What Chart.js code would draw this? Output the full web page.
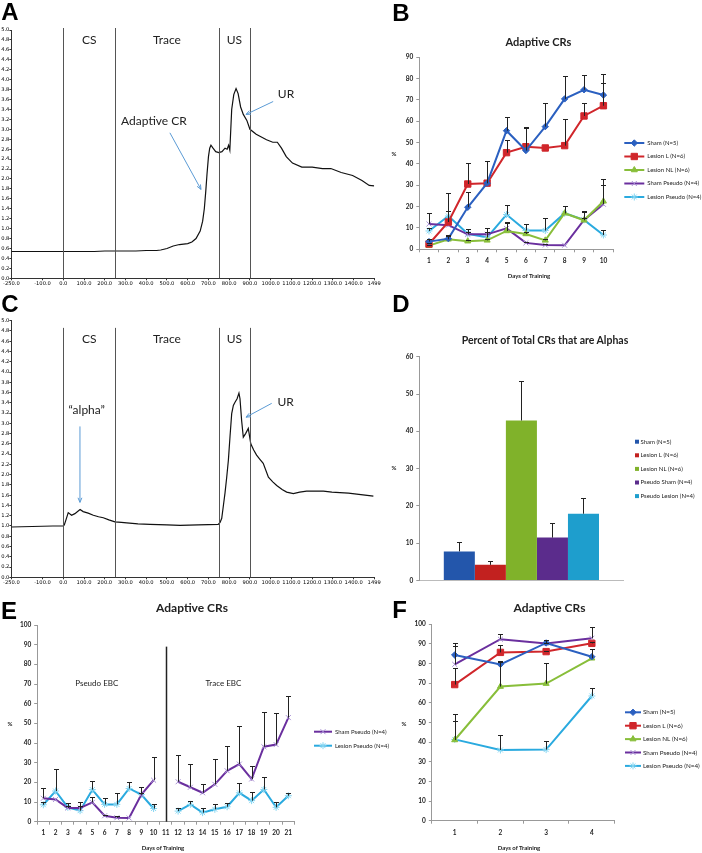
<!DOCTYPE html>
<html>
<head>
<meta charset="utf-8">
<script src="https://cdn.jsdelivr.net/npm/chart.js@4.4.0/dist/chart.umd.min.js"></script>
<style>
  html, body { margin: 0; padding: 0; background: #fff; }
  #page { position: relative; width: 702px; height: 853px; overflow: hidden; font-family: 'Lato', sans-serif; }
  #page canvas { position: absolute; left: 0; top: 0; }
  .t { position: absolute; transform: translate(-50%, -50%); white-space: nowrap; color: #222; line-height: 1; }
  .letter { font: bold 24px 'Liberation Sans', Arial, sans-serif; color: #000; }
  .title { font-weight: bold; }
  .axt { font-weight: bold; font-size: 6px; }
</style>
</head>
<body>
<div id="page">
  <canvas id="chartA" width="702" height="853"></canvas>
  <canvas id="chartB" width="702" height="853"></canvas>
  <canvas id="chartC" width="702" height="853"></canvas>
  <canvas id="chartD" width="702" height="853"></canvas>
  <canvas id="chartE" width="702" height="853"></canvas>
  <canvas id="chartF" width="702" height="853"></canvas>

  <div class="t letter" style="left:10px;top:12px">A</div>
  <div class="t letter" style="left:401px;top:12.5px">B</div>
  <div class="t letter" style="left:10px;top:304px">C</div>
  <div class="t letter" style="left:401px;top:304px">D</div>
  <div class="t letter" style="left:9px;top:611px">E</div>
  <div class="t letter" style="left:399.5px;top:609.5px">F</div>

  <div class="t title" style="left:538.5px;top:41px;font-size:11px">Adaptive CRs</div>
  <div class="t title" style="left:545px;top:340px;font-size:10.5px">Percent of Total CRs that are Alphas</div>
  <div class="t title" style="left:192px;top:608px;font-size:12px">Adaptive CRs</div>
  <div class="t title" style="left:549.5px;top:608px;font-size:12px">Adaptive CRs</div>

  <div class="t axt" style="left:529px;top:276px">Days of Training</div>
  <div class="t axt" style="left:394px;top:154px">%</div>
  <div class="t axt" style="left:394px;top:468px">%</div>
  <div class="t axt" style="left:163px;top:848px">Days of Training</div>
  <div class="t axt" style="left:10px;top:724px">%</div>
  <div class="t axt" style="left:519px;top:848px">Days of Training</div>
  <div class="t axt" style="left:404px;top:724px">%</div>
</div>

<script>
// ---- eyeblink traces (A = adaptive CR trial, C = alpha trial) ----
const traceTicks = [-250, -100, 0, 100, 200, 300, 400, 500, 600, 700, 800, 900, 1000, 1100, 1200, 1300, 1400, 1499];
const traceEvents = [0, 250, 750, 900];
const phaseNames = ['CS', 'Trace', 'US'];

const traceATime = [-250, -200, -150, -100, -50, 0, 50, 100, 150, 200, 250, 300, 350, 400, 450, 470, 500, 530, 560, 600,
  620, 640, 660, 672, 680, 687, 693, 700, 706, 712, 722, 735, 750, 765, 780, 790, 797, 803, 812, 822, 833, 843, 855, 868,
  885, 900, 930, 980, 1010, 1032, 1052, 1075, 1105, 1150, 1200, 1250, 1290, 1340, 1395, 1440, 1475, 1499];
const traceAVal = [0.54, 0.54, 0.54, 0.54, 0.54, 0.54, 0.54, 0.54, 0.54, 0.55, 0.55, 0.55, 0.55, 0.56, 0.56, 0.57, 0.60, 0.65, 0.68, 0.70,
  0.73, 0.80, 0.95, 1.15, 1.40, 1.75, 2.10, 2.45, 2.62, 2.68, 2.62, 2.55, 2.53, 2.55, 2.62, 2.60, 2.68, 2.58, 3.40, 3.70, 3.82, 3.72, 3.45, 3.30,
  3.18, 3.00, 2.90, 2.79, 2.74, 2.74, 2.62, 2.45, 2.32, 2.24, 2.24, 2.21, 2.21, 2.13, 2.07, 1.97, 1.87, 1.86];

const traceCTime = [-250, -150, -50, 0, 5, 13, 24, 40, 56, 81, 96, 120, 145, 170, 193, 220, 249, 280, 306, 360, 418, 500, 563, 650,
  747, 756, 764, 772, 780, 788, 796, 804, 812, 820, 828, 838, 847, 852, 860, 868, 879, 892, 904, 918, 932, 948, 964, 989,
  1010, 1029, 1055, 1077, 1109, 1140, 1173, 1210, 1254, 1295, 1334, 1375, 1415, 1455, 1495];
const traceCVal = [0.98, 0.99, 1.00, 1.00, 1.02, 1.12, 1.26, 1.21, 1.24, 1.32, 1.28, 1.25, 1.21, 1.18, 1.16, 1.12, 1.08, 1.07, 1.06, 1.04, 1.03, 1.02, 1.01, 1.02,
  1.03, 1.07, 1.15, 1.40, 1.65, 1.95, 2.28, 2.75, 3.19, 3.35, 3.41, 3.48, 3.59, 3.48, 3.05, 2.73, 2.80, 2.90, 2.60, 2.48, 2.38, 2.30, 2.22, 1.95,
  1.86, 1.79, 1.71, 1.66, 1.63, 1.66, 1.68, 1.68, 1.68, 1.66, 1.65, 1.64, 1.62, 1.60, 1.58];

// ---- B: adaptive CRs, 10 days ----
const days10 = ['1', '2', '3', '4', '5', '6', '7', '8', '9', '10'];
const bSham = [3.6, 5.0, 19.7, 31.0, 55.6, 46.3, 57.5, 70.5, 74.8, 72.3];
const bShamErr = [1.2, 1.5, 7.3, 10.4, 6.6, 10.4, 10.9, 10.7, 6.7, 10.0];
const bLesionL = [2.5, 12.8, 30.6, 31.0, 45.3, 48.1, 47.5, 48.6, 62.5, 67.3];
const bLesionLErr = [0.5, 5.2, 10.0, 10.4, 5.9, 9.4, 0, 12.4, 6.3, 10.5];
const bLesionNL = [1.7, 4.7, 3.8, 4.2, 8.6, 7.2, 4.2, 16.9, 13.6, 22.5];
const bLesionNLErr = [0.5, 1.7, 0.5, 0.5, 3.6, 1.0, 0.5, 3.5, 4.0, 7.7];
const bShamPseudo = [11.9, 11.3, 7.0, 7.0, 9.8, 3.0, 2.0, 1.9, 13.8, 21.1];
const bShamPseudoErr = [5.3, 0, 1.0, 1.0, 3.0, 0.5, 0.7, 0, 1.0, 12.0];
const bLesionPseudo = [8.6, 15.6, 7.3, 5.6, 16.3, 8.8, 8.8, 16.9, 13.8, 6.7];
const bLesionPseudoErr = [1.5, 11.0, 2.2, 4.2, 4.5, 3.0, 5.7, 3.5, 4.0, 2.3];

// ---- D: percent of CRs that are alphas ----
const dGroups = ['Sham (N=5)', 'Lesion L (N=6)', 'Lesion NL (N=6)', 'Pseudo Sham (N=4)', 'Pseudo Lesion (N=4)'];
const dValues = [7.8, 4.2, 42.9, 11.5, 17.9];
const dErrors = [2.4, 1.1, 10.7, 3.9, 4.2];

// ---- E: pseudo then trace conditioning, 21 days (day 11 empty) ----
const days21 = ['1', '2', '3', '4', '5', '6', '7', '8', '9', '10', '11', '12', '13', '14', '15', '16', '17', '18', '19', '20', '21'];
const eShamPseudo = [11.9, 11.3, 7.0, 7.0, 9.8, 3.0, 2.0, 1.9, 13.8, 21.1, null, 20.3, 17.5, 14.7, 19.0, 25.9, 29.3, 21.7, 38.1, 39.2, 52.9];
const eShamPseudoErr = [5.3, 0, 1.0, 1.0, 3.0, 0.5, 0.7, 0, 1.0, 12.0, 0, 13.4, 12.0, 4.3, 12.9, 12.6, 19.3, 6.8, 17.7, 16.2, 10.8];
const eLesionPseudo = [8.6, 15.6, 7.3, 5.6, 16.3, 8.8, 8.8, 16.9, 13.8, 6.7, null, 5.4, 8.8, 4.6, 6.3, 7.6, 14.7, 10.7, 16.4, 7.3, 13.2];
const eLesionPseudoErr = [1.5, 11.0, 2.2, 4.2, 4.5, 3.0, 5.7, 3.5, 4.0, 2.3, 0, 1.7, 1.7, 2.2, 2.5, 1.9, 4.8, 4.6, 6.3, 2.7, 1.5];

// ---- F: adaptive CRs, 4 days ----
const days4 = ['1', '2', '3', '4'];
const fSham = [84.4, 79.6, 90.5, 83.5];
const fShamErr = [5.9, 1.5, 1.5, 3.8];
const fLesionL = [69.3, 85.7, 86.1, 90.3];
const fLesionLErr = [8.5, 3.8, 0.5, 0.5];
const fLesionNL = [41.1, 68.3, 69.8, 82.7];
const fLesionNLErr = [13.4, 12.7, 10.7, 4.6];
const fShamPseudo = [79.6, 92.4, 90.2, 92.9];
const fShamPseudoErr = [9.4, 2.5, 0.5, 5.9];
const fLesionPseudo = [41.4, 36.0, 36.2, 63.5];
const fLesionPseudoErr = [9.5, 7.6, 4.5, 4.2];

const groupNames = ['Sham (N=5)', 'Lesion L (N=6)', 'Lesion NL (N=6)', 'Sham Pseudo (N=4)', 'Lesion Pseudo (N=4)'];

// colours
const cSham = '#2b60c0', cLesionL = '#d0262b', cLesionNL = '#88be3a', cShamPseudo = '#6a2f9e', cLesionPseudo = '#2aaadf';
const barColors = ['#2356ab', '#c2211f', '#80b22a', '#5b2c8c', '#1e9ecd'];

Chart.defaults.font.family = 'Lato';
Chart.defaults.animation = false;
Chart.defaults.devicePixelRatio = 1;
Chart.defaults.plugins.legend.display = false;
Chart.defaults.plugins.tooltip.enabled = false;

// upward error bars
const errorBars = {
  id: 'errorBars',
  afterDatasetsDraw(chart) {
    const ctx = chart.ctx, yScale = chart.scales.y;
    ctx.save();
    ctx.strokeStyle = '#222';
    ctx.lineWidth = 1;
    chart.data.datasets.forEach((ds, di) => {
      if (!ds.errors) return;
      chart.getDatasetMeta(di).data.forEach((el, i) => {
        const v = ds.data[i], e = ds.errors[i];
        if (v == null || !e) return;
        const x = Math.round(el.x) + 0.5;
        const top = Math.round(yScale.getPixelForValue(v + e)) + 0.5;
        ctx.beginPath();
        ctx.moveTo(x, el.y);
        ctx.lineTo(x, top);
        ctx.moveTo(x - 2.5, top);
        ctx.lineTo(x + 2.5, top);
        ctx.stroke();
      });
    });
    ctx.restore();
  }
};

// legend beside the plot, like the spreadsheet one
const sideLegend = {
  id: 'sideLegend',
  afterDraw(chart, args, opts) {
    if (opts.x == null) return;
    const ctx = chart.ctx;
    ctx.save();
    ctx.font = opts.font;
    ctx.textBaseline = 'middle';
    chart.data.datasets.forEach((ds, i) => {
      const y = opts.y + i * opts.step;
      if (opts.box) {
        ctx.fillStyle = ds.backgroundColor;
        ctx.fillRect(opts.x, y - 2, 4, 4);
      } else {
        ctx.strokeStyle = ds.borderColor;
        ctx.lineWidth = 2;
        ctx.beginPath();
        ctx.moveTo(opts.x, y);
        ctx.lineTo(opts.x + opts.len, y);
        ctx.stroke();
        ctx.fillStyle = ds.pointBackgroundColor;
        ctx.strokeStyle = ds.pointBorderColor;
        ctx.lineWidth = 1;
        Chart.helpers.drawPoint(ctx, { pointStyle: ds.pointStyle, radius: ds.pointRadius, rotation: 0, borderWidth: 1 },
          opts.x + opts.len / 2, y);
      }
      ctx.fillStyle = '#222';
      ctx.fillText(ds.label, opts.x + opts.textOff, y);
    });
    ctx.restore();
  }
};

// lines, labels and arrows placed in data units
const notes = {
  id: 'notes',
  afterDatasetsDraw(chart, args, opts) {
    const { ctx, scales: { x, y } } = chart;
    ctx.save();
    (opts.lines || []).forEach(l => {
      const px = Math.round(x.getPixelForValue(l.x)) + 0.5;
      ctx.strokeStyle = l.color;
      ctx.lineWidth = l.width;
      ctx.beginPath();
      ctx.moveTo(px, y.getPixelForValue(l.y0));
      ctx.lineTo(px, y.getPixelForValue(l.y1));
      ctx.stroke();
    });
    (opts.arrows || []).forEach(a => {
      const x1 = x.getPixelForValue(a[0]), y1 = y.getPixelForValue(a[1]);
      const x2 = x.getPixelForValue(a[2]), y2 = y.getPixelForValue(a[3]);
      const ang = Math.atan2(y2 - y1, x2 - x1);
      ctx.strokeStyle = '#5b9bd5';
      ctx.lineWidth = 1;
      ctx.beginPath();
      ctx.moveTo(x1, y1);
      ctx.lineTo(x2, y2);
      ctx.moveTo(x2 - 5 * Math.cos(ang - 0.4), y2 - 5 * Math.sin(ang - 0.4));
      ctx.lineTo(x2, y2);
      ctx.lineTo(x2 - 5 * Math.cos(ang + 0.4), y2 - 5 * Math.sin(ang + 0.4));
      ctx.stroke();
    });
    ctx.textAlign = 'center';
    ctx.textBaseline = 'middle';
    ctx.fillStyle = '#222';
    (opts.texts || []).forEach(t => {
      ctx.font = t.font;
      ctx.fillText(t.text, x.getPixelForValue(t.x), y.getPixelForValue(t.y));
    });
    ctx.restore();
  }
};

Chart.register(errorBars, sideLegend);

// plot rectangle given in page pixels; the axes get fixed room
function placePlot(L, T, R, B, yW, xH) {
  return { left: L - yW, top: T, right: 702 - R, bottom: 853 - B - xH };
}

const tickFont = { size: 6.5, weight: 'bold' };
const traceFont = { family: 'DejaVu Sans', size: 5.2 };

function catScales(yMax, yW, xH, xPad) {
  return {
    x: {
      type: 'category', offset: true,
      grid: { offset: true, drawOnChartArea: false, color: '#999', tickLength: 3 },
      border: { color: '#999' },
      ticks: { font: tickFont, color: '#222', maxRotation: 0, autoSkip: false, padding: xPad },
      afterFit: s => { s.height = xH; }
    },
    y: {
      min: 0, max: yMax,
      grid: { drawOnChartArea: false, color: '#999', tickLength: 3 },
      border: { color: '#999' },
      ticks: { stepSize: 10, font: tickFont, color: '#222', padding: 3 },
      afterFit: s => { s.width = yW; }
    }
  };
}

const markers = [
  { pointStyle: 'rectRot', pointRadius: 3.2, color: cSham, edge: cSham },
  { pointStyle: 'rect', pointRadius: 4.5, color: cLesionL, edge: cLesionL },
  { pointStyle: 'triangle', pointRadius: 3.5, color: cLesionNL, edge: cLesionNL },
  { pointStyle: 'crossRot', pointRadius: 3.5, color: cShamPseudo, edge: '#a890d4' },
  { pointStyle: 'star', pointRadius: 3.5, color: cLesionPseudo, edge: '#86d6f2' }
];

function lineSet(i, data, errors) {
  const m = markers[i];
  return {
    label: groupNames[i], data, errors,
    borderColor: m.color, backgroundColor: m.color, borderWidth: 2, tension: 0, spanGaps: false,
    pointStyle: m.pointStyle, pointRadius: m.pointRadius,
    pointBackgroundColor: m.color, pointBorderColor: m.edge, pointBorderWidth: 1
  };
}

function traceChart(id, times, vals, L, T, R, B, extra) {
  return new Chart(document.getElementById(id), {
    type: 'line',
    data: {
      datasets: [{
        data: times.map((t, i) => ({ x: t, y: vals[i] })),
        borderColor: '#111', borderWidth: 1.2, pointRadius: 0, tension: 0
      }]
    },
    options: {
      responsive: false,
      layout: { padding: placePlot(L, T, R, B, 11, 10) },
      scales: {
        x: {
          type: 'linear', min: -250, max: 1499,
          afterBuildTicks: s => { s.ticks = traceTicks.map(v => ({ value: v })); },
          grid: { drawOnChartArea: false, color: '#333', tickLength: 2 },
          border: { color: '#333' },
          ticks: { font: traceFont, color: '#000', maxRotation: 0, autoSkip: false, padding: 0,
            callback: v => (v === 1499 ? '1499' : v.toFixed(1)) },
          afterFit: s => { s.height = 10; }
        },
        y: {
          min: 0, max: 5,
          grid: { drawOnChartArea: false, color: '#333', tickLength: 2 },
          border: { color: '#333' },
          ticks: { stepSize: 0.2, autoSkip: false, font: traceFont, color: '#000', padding: 0,
            callback: v => v.toFixed(1) },
          afterFit: s => { s.width = 11; }
        }
      },
      plugins: { notes: extra }
    },
    plugins: [notes]
  });
}

function traceNotes(lineTop, phaseY, labels, arrows) {
  return {
    lines: traceEvents.map(t => ({ x: t, y0: lineTop, y1: 0, color: '#555', width: 1 })),
    texts: phaseNames.map((n, i) => ({ text: n, x: (traceEvents[i] + traceEvents[i + 1]) / 2, y: phaseY, font: '12px Lato' }))
      .concat(labels.map(l => ({ text: l[0], x: l[1], y: l[2], font: '12px Lato' }))),
    arrows
  };
}

// A
traceChart('chartA', traceATime, traceAVal, 11.4, 30, 374.2, 278.3,
  traceNotes(5.04, 4.80, [['Adaptive CR', 437, 3.17], ['UR', 1074, 3.71]],
    [[514, 2.93, 664, 1.79], [1012, 3.56, 881, 3.30]]));

// C
traceChart('chartC', traceCTime, traceCVal, 11.4, 320.7, 374.2, 577.3,
  traceNotes(4.86, 4.64, [['\u201calpha\u201d', 113, 3.25], ['UR', 1072, 3.41]],
    [[80.5, 2.94, 80.5, 1.46], [1005, 3.39, 881, 3.12]]));

// B
new Chart(document.getElementById('chartB'), {
  type: 'line',
  data: {
    labels: days10,
    datasets: [
      lineSet(0, bSham, bShamErr),
      lineSet(1, bLesionL, bLesionLErr),
      lineSet(2, bLesionNL, bLesionNLErr),
      lineSet(3, bShamPseudo, bShamPseudoErr),
      lineSet(4, bLesionPseudo, bLesionPseudoErr)
    ]
  },
  options: {
    responsive: false,
    layout: { padding: placePlot(419.3, 57.3, 613.1, 249.3, 20, 20) },
    scales: catScales(90, 20, 20, 5),
    plugins: { sideLegend: { x: 624.3, y: 143, step: 13.5, len: 20, textOff: 23, font: '6px Lato' } }
  }
});

// D
new Chart(document.getElementById('chartD'), {
  type: 'bar',
  data: {
    labels: [''],
    datasets: dGroups.map((g, i) => ({
      label: g, data: [dValues[i]], errors: [dErrors[i]], backgroundColor: barColors[i],
      borderWidth: 0, categoryPercentage: 0.76, barPercentage: 1
    }))
  },
  options: {
    responsive: false,
    layout: { padding: placePlot(419.3, 356.7, 623.5, 580.5, 20, 2) },
    scales: {
      x: {
        grid: { display: false }, border: { color: '#bbb' }, ticks: { display: false },
        afterFit: s => { s.height = 2; }
      },
      y: {
        min: 0, max: 60,
        grid: { drawOnChartArea: false, color: '#999', tickLength: 3 },
        border: { color: '#999' },
        ticks: { stepSize: 10, font: tickFont, color: '#222', padding: 3 },
        afterFit: s => { s.width = 20; }
      }
    },
    plugins: { sideLegend: { x: 635, y: 441.7, step: 13.6, box: true, textOff: 5.5, font: '6px Lato' } }
  }
});

// E
const eSets = [lineSet(3, eShamPseudo, eShamPseudoErr), lineSet(4, eLesionPseudo, eLesionPseudoErr)];
new Chart(document.getElementById('chartE'), {
  type: 'line',
  data: { labels: days21, datasets: eSets },
  options: {
    responsive: false,
    layout: { padding: placePlot(37.2, 625, 294.5, 821.7, 20, 20) },
    scales: catScales(100, 20, 20, 4),
    plugins: {
      sideLegend: { x: 314, y: 731.7, step: 14, len: 18, textOff: 21, font: '6px Lato' },
      notes: {
        lines: [{ x: 10, y0: 89, y1: 0, color: '#222', width: 1.5 }],
        texts: [
          { text: 'Pseudo EBC', x: 4.36, y: 70.4, font: '8px Lato' },
          { text: 'Trace EBC', x: 14.7, y: 70.4, font: '8px Lato' }
        ]
      }
    }
  },
  plugins: [notes]
});

// F
new Chart(document.getElementById('chartF'), {
  type: 'line',
  data: {
    labels: days4,
    datasets: [
      lineSet(0, fSham, fShamErr),
      lineSet(1, fLesionL, fLesionLErr),
      lineSet(2, fLesionNL, fLesionNLErr),
      lineSet(3, fShamPseudo, fShamPseudoErr),
      lineSet(4, fLesionPseudo, fLesionPseudoErr)
    ]
  },
  options: {
    responsive: false,
    layout: { padding: placePlot(431.85, 624.3, 614.7, 820.7, 20, 20) },
    scales: catScales(100, 20, 20, 5),
    plugins: { sideLegend: { x: 625, y: 712.3, step: 13.4, len: 16, textOff: 18, font: '6.3px Lato' } }
  }
});
</script>
</body>
</html>
